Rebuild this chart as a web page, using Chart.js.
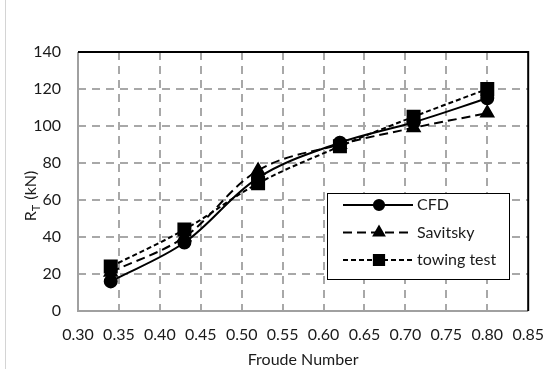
<!DOCTYPE html>
<html>
<head>
<meta charset="utf-8">
<script src="https://cdn.jsdelivr.net/npm/chart.js@4"></script>
<style>
  html, body { margin: 0; padding: 0; background: #fff; }
  #wrap { position: relative; width: 558px; height: 369px; }
  #edge { position: absolute; left: 5px; top: 0; width: 1px; height: 369px; background: #d4d4d4; }
</style>
</head>
<body>
<div id="wrap">
  <div id="edge"></div>
  <canvas id="lineChart" width="558" height="369"></canvas>
</div>
<script>
// data
var froude = [0.34, 0.43, 0.52, 0.62, 0.71, 0.80];
var cfd = [16, 37, 72, 91, 102, 115];
var savitsky = [21, 40, 76, 90, 99, 107];
var towing = [24, 44, 69, 89, 105, 120];
var xTicks = [0.30, 0.35, 0.40, 0.45, 0.50, 0.55, 0.60, 0.65, 0.70, 0.75, 0.80, 0.85];
var yTicks = [0, 20, 40, 60, 80, 100, 120, 140];

var FONT = "Lato, 'Open Sans', sans-serif";
var TXT = '#1a1a1a';

function pts(ys) {
    return froude.map(function(x, i) { return { x: x, y: ys[i] }; });
}

// plot frame + y title with subscript + legend box inside the plot
var framePlugin = {
    id: 'frame',
    afterDraw: function(chart) {
        var ctx = chart.ctx, a = chart.chartArea;
        ctx.save();
        ctx.setLineDash([]);
        ctx.lineWidth = 2;
        ctx.strokeStyle = '#a0a0a0';
        ctx.beginPath();
        ctx.moveTo(a.left, a.top); ctx.lineTo(a.left, a.bottom); ctx.lineTo(a.right, a.bottom);
        ctx.stroke();
        ctx.strokeStyle = '#000';
        ctx.beginPath();
        ctx.moveTo(a.left, a.top); ctx.lineTo(a.right, a.top); ctx.lineTo(a.right, a.bottom);
        ctx.stroke();

        // y title: R_T (kN)
        ctx.translate(31, 196);
        ctx.rotate(-Math.PI / 2);
        ctx.fillStyle = TXT;
        ctx.textBaseline = 'middle';
        ctx.font = '16px ' + FONT;
        var w1 = ctx.measureText('R').width;
        ctx.font = '11px ' + FONT;
        var w2 = ctx.measureText('T').width + 1;
        ctx.font = '16px ' + FONT;
        var w3 = ctx.measureText(' (kN)').width;
        var x0 = -(w1 + w2 + w3) / 2;
        ctx.textAlign = 'left';
        ctx.fillText('R', x0, 0);
        ctx.font = '11px ' + FONT;
        ctx.fillText('T', x0 + w1, 5);
        ctx.font = '16px ' + FONT;
        ctx.fillText(' (kN)', x0 + w1 + w2, 0);
        ctx.restore();

        // legend
        var box = { x: 327, y: 193, w: 182, h: 86 };
        ctx.save();
        ctx.fillStyle = '#fff';
        ctx.fillRect(box.x, box.y, box.w, box.h);
        ctx.lineWidth = 1;
        ctx.strokeStyle = '#000';
        ctx.strokeRect(box.x + 0.5, box.y + 0.5, box.w, box.h);
        chart.data.datasets.forEach(function(ds, i) {
            var y = 205 + i * 27.5;
            ctx.strokeStyle = '#000';
            ctx.lineWidth = 2;
            ctx.setLineDash(ds.borderDash || []);
            ctx.beginPath();
            ctx.moveTo(343, y); ctx.lineTo(413, y);
            ctx.stroke();
            ctx.setLineDash([]);
            Chart.helpers.drawPoint(ctx, {
                pointStyle: ds.pointStyle, radius: ds.pointRadius * 0.85, rotation: 0, borderWidth: 1
            }, 379, y);
            ctx.fillStyle = '#000';
            ctx.fill();
            ctx.fillStyle = TXT;
            ctx.font = '16px ' + FONT;
            ctx.textAlign = 'left';
            ctx.textBaseline = 'middle';
            ctx.fillText(ds.label, 417, y);
        });
        ctx.restore();
    }
};

var common = {
    borderColor: '#000',
    backgroundColor: '#000',
    pointBackgroundColor: '#000',
    pointBorderColor: '#000',
    borderWidth: 2,
    tension: 0.35,
    fill: false
};

function gridColor(n) {
    return function(c) { return (c.index === 0 || c.index === n - 1) ? 'rgba(0,0,0,0)' : '#a8a8a8'; };
}

new Chart(document.getElementById('lineChart'), {
    type: 'line',
    data: {
        datasets: [
            Object.assign({ label: 'CFD', data: pts(cfd), pointStyle: 'circle', pointRadius: 6 }, common),
            Object.assign({ label: 'Savitsky', data: pts(savitsky), pointStyle: 'triangle', pointRadius: 7, borderDash: [9, 5] }, common),
            Object.assign({ label: 'towing test', data: pts(towing), pointStyle: 'rect', pointRadius: 8.5, borderDash: [5, 3] }, common)
        ]
    },
    options: {
        responsive: false,
        animation: false,
        layout: { padding: { left: 0, right: 16, top: 52, bottom: 0 } },
        plugins: {
            legend: { display: false },
            tooltip: { enabled: false }
        },
        scales: {
            x: {
                type: 'linear',
                min: 0.30,
                max: 0.85,
                afterBuildTicks: function(s) { s.ticks = xTicks.map(function(v) { return { value: v }; }); },
                afterFit: function(s) { s.height = 58; },
                border: { display: false, dash: [8, 6] },
                grid: {
                    color: gridColor(xTicks.length),
                    lineWidth: 2,
                    drawTicks: false
                },
                ticks: {
                    padding: 14,
                    color: TXT,
                    font: { family: FONT, size: 16 },
                    maxRotation: 0,
                    autoSkip: false,
                    callback: function(v) { return Number(v).toFixed(2); }
                },
                title: {
                    display: true,
                    text: 'Froude Number',
                    color: TXT,
                    font: { family: FONT, size: 16 },
                    padding: { top: 0, bottom: 0 }
                }
            },
            y: {
                min: 0,
                max: 140,
                afterBuildTicks: function(s) { s.ticks = yTicks.map(function(v) { return { value: v }; }); },
                afterFit: function(s) { s.width = 78; },
                border: { display: false, dash: [8, 6] },
                grid: {
                    color: gridColor(yTicks.length),
                    lineWidth: 2,
                    drawTicks: false
                },
                ticks: {
                    padding: 17,
                    color: TXT,
                    font: { family: FONT, size: 16 }
                }
            }
        }
    },
    plugins: [framePlugin]
});
</script>
</body>
</html>
